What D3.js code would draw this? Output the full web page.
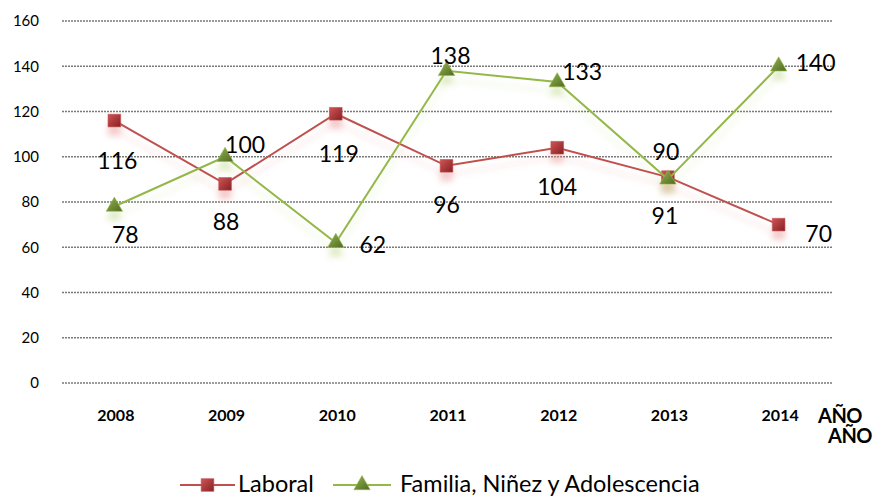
<!DOCTYPE html>
<html><head><meta charset="utf-8">
<script src="https://cdn.jsdelivr.net/npm/d3@7"></script>
<style>body{margin:0;background:#fff}svg{display:block;font-family:Lato,"Open Sans",sans-serif}</style>
</head><body><svg id="c" width="874" height="498"></svg>
<script>
const years = ["2008","2009","2010","2011","2012","2013","2014"];
const laboral = [116, 88, 119, 96, 104, 91, 70];
const familia = [78, 100, 62, 138, 133, 90, 140];
const yTicks = [0, 20, 40, 60, 80, 100, 120, 140, 160];
const seriesNames = ["Laboral", "Familia, Niñez y Adolescencia"];
const axisTitle = "AÑO";
// label offsets (style)
const labOffR = [[3,39],[1,37],[3,39],[0,38],[0,38],[-3,38],[40,8]];
const labOffG = [[11,27],[20,-13],[37,1],[4,-16],[25,-11],[-2,-28],[37,-4]];

const svg = d3.select("#c");
const x = d3.scalePoint().domain(years).range([59, 834]).padding(0.5);
const y = d3.scaleLinear().domain([0, 160]).range([383, 21]);

const defs = svg.append("defs");
defs.append("filter").attr("id","blur").attr("x","-50%").attr("y","-50%").attr("width","200%").attr("height","200%")
  .append("feGaussianBlur").attr("stdDeviation", 3);
const gr = defs.append("linearGradient").attr("id","gR").attr("x1",0).attr("y1",0).attr("x2",1).attr("y2",1);
gr.append("stop").attr("offset","0").attr("stop-color","#d05555");
gr.append("stop").attr("offset","1").attr("stop-color","#862024");
const gg = defs.append("linearGradient").attr("id","gG").attr("x1",0).attr("y1",0).attr("x2",1).attr("y2",1);
gg.append("stop").attr("offset","0").attr("stop-color","#95b554");
gg.append("stop").attr("offset","1").attr("stop-color","#4f6920");

// gridlines
svg.append("g").selectAll("line").data(yTicks).join("line")
  .attr("x1", 62).attr("x2", 832).attr("y1", d => y(d)).attr("y2", d => y(d))
  .attr("stroke", "#7a7a7a").attr("stroke-width", 1.3).attr("stroke-dasharray", "2,1");

// y axis labels
const yAxis = d3.axisLeft(y).tickValues(yTicks).tickSize(0).tickPadding(0);
const ya = svg.append("g").attr("transform","translate(39,0)").call(yAxis);
ya.select(".domain").remove();
ya.selectAll("text").attr("font-size", 15).attr("font-family","Lato, sans-serif").attr("fill","#000");

// x axis labels
const xAxis = d3.axisBottom(x).tickSize(0).tickPadding(0);
const xa = svg.append("g").attr("transform","translate(1,410)").call(xAxis);
xa.select(".domain").remove();
xa.selectAll("text").attr("font-size", 16).attr("font-weight","bold").attr("font-family","Lato, sans-serif").attr("fill","#000");

// axis title (double)
svg.append("text").attr("x", 818).attr("y", 423).attr("font-size", 20).attr("font-weight","bold")
  .attr("letter-spacing", -0.5).text(axisTitle);
svg.append("text").attr("x", 828).attr("y", 443).attr("font-size", 20).attr("font-weight","bold")
  .attr("letter-spacing", -0.5).text(axisTitle);

const line = d3.line().x((d,i) => x(years[i])).y(d => y(d));
const sq = d3.symbol().type(d3.symbolSquare).size(160);
const tri = d3.symbol().type(d3.symbolTriangle).size(115);

const series = [
  {vals: laboral, color: "#c0504d", fill: "url(#gR)", shadow: "#e88a8a", sym: sq, off: labOffR},
  {vals: familia, color: "#93b848", fill: "url(#gG)", shadow: "#b5d178", sym: tri, off: labOffG}
];

// shadows
series.forEach(s => {
  const g = svg.append("g").attr("filter","url(#blur)").attr("opacity",0.45).attr("transform","translate(0,9)");
  g.append("path").attr("d", line(s.vals)).attr("fill","none").attr("stroke", s.shadow).attr("stroke-width",3).attr("opacity",0.4);
  g.selectAll("path.m").data(s.vals).join("path").attr("class","m")
    .attr("transform",(d,i)=>`translate(${x(years[i])},${y(d)})`).attr("d", s.sym()).attr("fill", s.shadow);
});

// lines & markers
series.forEach(s => {
  svg.append("path").attr("d", line(s.vals)).attr("fill","none").attr("stroke", s.color).attr("stroke-width",2);
  svg.append("g").selectAll("path").data(s.vals).join("path")
    .attr("transform",(d,i)=>`translate(${x(years[i])},${y(d)})`).attr("d", s.sym())
    .attr("fill", s.fill).attr("stroke", s.color).attr("stroke-width", 0.6);
});

// data labels
series.forEach(s => {
  svg.append("g").selectAll("text").data(s.vals).join("text")
    .attr("x",(d,i)=>x(years[i]) + s.off[i][0]).attr("y",(d,i)=>y(d) + s.off[i][1])
    .attr("text-anchor","middle").attr("dominant-baseline","central")
    .attr("font-size", 23).attr("fill","#000").text(d => d);
});

// legend
const leg = svg.append("g");
const legItems = [
  {name: seriesNames[0], color: "#c0504d", fill: "url(#gR)", sym: sq, x0: 180, x1: 235, tx: 238},
  {name: seriesNames[1], color: "#93b848", fill: "url(#gG)", sym: tri, x0: 333, x1: 391, tx: 400}
];
legItems.forEach(it => {
  leg.append("line").attr("x1", it.x0).attr("x2", it.x1).attr("y1", 485).attr("y2", 485)
    .attr("stroke", it.color).attr("stroke-width", 2);
  leg.append("path").attr("transform", `translate(${(it.x0+it.x1)/2},485)`).attr("d", it.sym())
    .attr("fill", it.fill).attr("stroke", it.color).attr("stroke-width", 0.6);
  leg.append("text").attr("x", it.tx).attr("y", 483).attr("dominant-baseline","central")
    .attr("font-size", 23.5).attr("fill","#000").text(it.name);
});
</script></body></html>
